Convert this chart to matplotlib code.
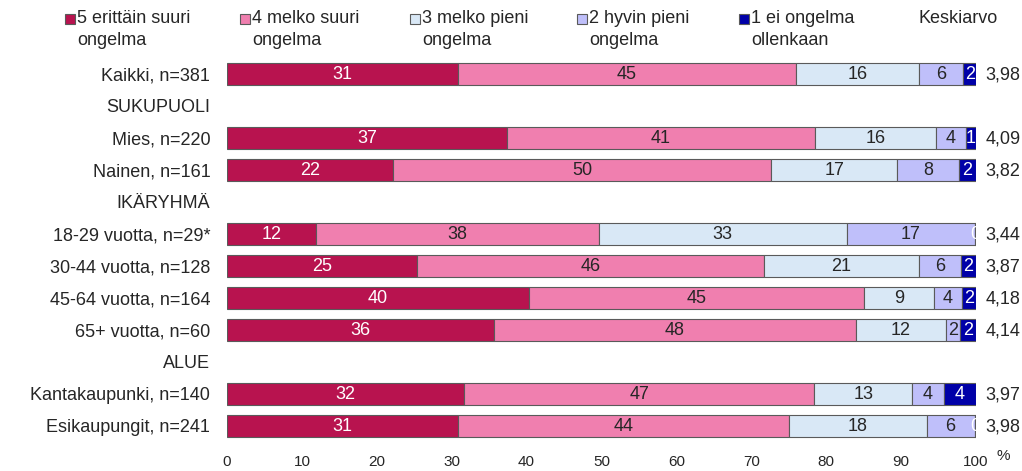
"""Stacked horizontal bars: how big a problem, by group."""

import matplotlib.pyplot as plt
from matplotlib.patches import Rectangle
import numpy as np

plt.rcParams['font.family'] = ['Liberation Sans', 'DejaVu Sans']

# Data (None = section header row)
row_labels = ['Kaikki, n=381', 'SUKUPUOLI', 'Mies, n=220', 'Nainen, n=161',
              'IKÄRYHMÄ', '18-29 vuotta, n=29*', '30-44 vuotta, n=128',
              '45-64 vuotta, n=164', '65+ vuotta, n=60', 'ALUE',
              'Kantakaupunki, n=140', 'Esikaupungit, n=241']
s5 = [30.8, None, 37.4, 22.2, None, 11.9, 25.4, 40.3, 35.6, None, 31.7, 30.8]
s4 = [45.2, None, 41.1, 50.4, None, 37.7, 46.3, 44.7, 48.4, None, 46.7, 44.3]
s3 = [16.4, None, 16.2, 16.9, None, 33.2, 20.7, 9.4, 12.0, None, 13.1, 18.3]
s2 = [5.9, None, 3.9, 8.2, None, 17.0, 5.6, 3.7, 1.9, None, 4.2, 6.4]
s1 = [1.7, None, 1.4, 2.3, None, 0.2, 2.0, 1.9, 2.1, None, 4.3, 0.2]
means = [3.98, None, 4.09, 3.82, None, 3.44, 3.87, 4.18, 4.14, None, 3.97, 3.98]

series_labels = ['5 erittäin suuri\nongelma', '4 melko suuri\nongelma',
                 '3 melko pieni\nongelma', '2 hyvin pieni\nongelma',
                 '1 ei ongelma\nollenkaan']
colors = ['#B8134F', '#F07FAF', '#D9E8F6', '#BFBFFA', '#0000A8']
text_colors = ['white', '#262626', '#262626', '#262626', 'white']
TXT = '#262626'
FS = 13

fig = plt.figure(figsize=(10.22, 4.71), dpi=100)
ax = fig.add_axes([227 / 1022, 1 - 442 / 471, (976 - 227) / 1022, 384 / 471])

series = [s5, s4, s3, s2, s1]
for i, lab in enumerate(row_labels):
    if s5[i] is None:
        continue
    left = 0
    for k, s in enumerate(series):
        v = s[i]
        ax.barh(i, v, left=left, height=0.69, color=colors[k],
                edgecolor='#5a5a5a', linewidth=0.8)
        ax.text(left + v / 2, i + 0.03, f'{v:.0f}', ha='center', va='center',
                color=text_colors[k], fontsize=FS)
        left += v
    ax.text(101.3, i + 0.03, f'{means[i]:.2f}'.replace('.', ','), ha='left',
            va='center', fontsize=FS, color=TXT)

ax.set_xlim(0, 100)
ax.set_ylim(len(row_labels) - 0.5, -0.5)
ax.set_yticks(range(len(row_labels)))
ax.set_yticklabels(row_labels, fontsize=FS, color=TXT)
ax.set_xticks(np.arange(0, 101, 10))
ax.tick_params(axis='x', length=0, pad=9, labelsize=11, labelcolor=TXT)
ax.tick_params(axis='y', length=0, pad=12)
for sp in ax.spines.values():
    sp.set_visible(False)
fig.text(1003 / 1022, 1 - 456 / 471, '%', ha='center', va='center',
         fontsize=11, color=TXT)

# Legend drawn by hand
leg_x = [65, 240, 410, 577, 739]
for x, lab, c in zip(leg_x, series_labels, colors):
    fig.patches.append(Rectangle((x / 1022, 1 - 24 / 471), 10 / 1022, 10 / 471,
                                 transform=fig.transFigure, facecolor=c,
                                 edgecolor='#5a5a5a', linewidth=0.8))
    fig.text((x + 12) / 1022, 1 - 10 / 471, lab, ha='left', va='top',
             fontsize=FS, color=TXT, linespacing=1.4)
fig.text(918 / 1022, 1 - 10 / 471, 'Keskiarvo', ha='left', va='top',
         fontsize=FS, color=TXT)

fig.savefig('out.png', dpi=100)
